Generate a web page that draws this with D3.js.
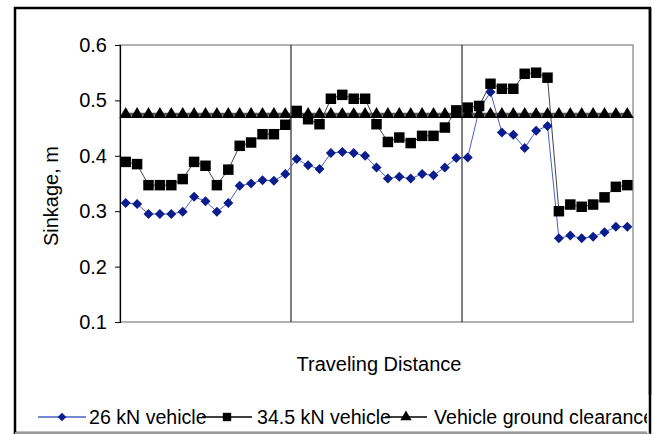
<!DOCTYPE html>
<html>
<head>
<meta charset="utf-8">
<script src="https://cdn.jsdelivr.net/npm/d3@7"></script>
<style>
  body { margin: 0; background: #fff; }
  svg { display: block; font-family: Arial, "Liberation Sans", sans-serif; }
</style>
</head>
<body>
<div id="chart"></div>
<script>
// sinkage per point along the travel path (45 readings)
const sink26 = [
  0.315, 0.313, 0.295, 0.295, 0.295, 0.299, 0.326, 0.318, 0.299, 0.315, 0.346, 0.350, 0.356, 0.355, 0.367,
  0.394, 0.383, 0.376, 0.405, 0.407, 0.405, 0.400, 0.379, 0.359, 0.362, 0.359, 0.367, 0.365, 0.379, 0.396,
  0.397, 0.483, 0.515, 0.442, 0.438, 0.414, 0.445, 0.454, 0.251, 0.256, 0.251, 0.254, 0.262, 0.272, 0.272
];
const sink345 = [
  0.389, 0.385, 0.347, 0.347, 0.347, 0.358, 0.389, 0.382, 0.347, 0.375, 0.418, 0.424, 0.439, 0.439, 0.456,
  0.481, 0.466, 0.457, 0.503, 0.510, 0.503, 0.503, 0.457, 0.425, 0.433, 0.423, 0.436, 0.436, 0.451, 0.482,
  0.487, 0.490, 0.530, 0.521, 0.521, 0.548, 0.550, 0.541, 0.300, 0.312, 0.308, 0.312, 0.325, 0.344, 0.347
];
const clearance = [
  0.475, 0.475, 0.475, 0.475, 0.475, 0.475, 0.475, 0.475, 0.475, 0.475, 0.475, 0.475, 0.475, 0.475, 0.475,
  0.475, 0.475, 0.475, 0.475, 0.475, 0.475, 0.475, 0.475, 0.475, 0.475, 0.475, 0.475, 0.475, 0.475, 0.475,
  0.475, 0.475, 0.475, 0.475, 0.475, 0.475, 0.475, 0.475, 0.475, 0.475, 0.475, 0.475, 0.475, 0.475, 0.475
];
const yTicks = [0.1, 0.2, 0.3, 0.4, 0.5, 0.6];
const gridAt = [15, 30];   // category gridlines
const seriesNames = ["26 kN vehicle", "34.5 kN vehicle", "Vehicle ground clearance"];

const W = 654, H = 434;
const plot = { left: 120, right: 633, top: 45, bottom: 322 };

const svg = d3.select("#chart").append("svg")
    .attr("width", W)
    .attr("height", H);

// outer frame
svg.append("rect")
    .attr("x", 15).attr("y", 8)
    .attr("width", 635).attr("height", 425)
    .attr("fill", "#fff")
    .attr("stroke", "#000")
    .attr("stroke-width", 2.5);
svg.append("line")
    .attr("x1", 15).attr("x2", 650)
    .attr("y1", 433).attr("y2", 433)
    .attr("stroke", "#999").attr("stroke-width", 2);

// scales
const idx = d3.range(sink26.length);
const x = d3.scaleBand()
    .domain(idx)
    .range([plot.left, plot.right])
    .padding(0);
const cx = i => x(i) + x.bandwidth() / 2;

const y = d3.scaleLinear()
    .domain([0.1, 0.6])
    .range([plot.bottom, plot.top]);

// plot area border
svg.append("rect")
    .attr("x", plot.left).attr("y", plot.top)
    .attr("width", plot.right - plot.left)
    .attr("height", plot.bottom - plot.top)
    .attr("fill", "none")
    .attr("stroke", "#999")
    .attr("stroke-width", 1.5);

// category gridlines
svg.append("g")
  .selectAll("line")
  .data(gridAt)
  .join("line")
    .attr("x1", d => x(d)).attr("x2", d => x(d))
    .attr("y1", plot.top).attr("y2", plot.bottom)
    .attr("stroke", "#000")
    .attr("stroke-width", 1);

// y axis
const yAxis = svg.append("g")
    .attr("transform", `translate(${plot.left},0)`)
    .call(d3.axisLeft(y).tickValues(yTicks).tickFormat(d3.format(".1f")).tickSize(5).tickPadding(8));
yAxis.select(".domain").attr("stroke", "#000").attr("stroke-width", 1.2);
yAxis.selectAll("text")
    .attr("font-size", "20px")
    .attr("fill", "#000")
    .attr("font-family", "Arial, 'Liberation Sans', sans-serif");

// axis titles
svg.append("text")
    .attr("transform", "rotate(-90)")
    .attr("x", -196).attr("y", 51)
    .attr("dy", "0.35em")
    .attr("text-anchor", "middle")
    .attr("font-size", "20px")
    .text("Sinkage, m");

svg.append("text")
    .attr("x", 379).attr("y", 364)
    .attr("dy", "0.35em")
    .attr("text-anchor", "middle")
    .attr("font-size", "20px")
    .text("Traveling Distance");

// marker shapes
const diamond = d3.symbol().type(d3.symbolSquare).size(50);
const square = d3.symbol().type(d3.symbolSquare).size(110);
const triangle = d3.symbol().type(d3.symbolTriangle).size(70);

const series = [
  { values: sink26,    line: "#4660c4", lw: 1,   sym: diamond,  fill: "#0b1c8c", rot: 45 },
  { values: clearance, line: "#555",    lw: 3,   sym: triangle, fill: "#000",    rot: 0 },
  { values: sink345,   line: "#444",    lw: 1,   sym: square,   fill: "#000",    rot: 0 }
];

const lineGen = d3.line()
    .x((d, i) => cx(i))
    .y(d => y(d));

// lines first
series.forEach(s => {
  svg.append("path")
      .datum(s.values)
      .attr("fill", "none")
      .attr("stroke", s.line)
      .attr("stroke-width", s.lw)
      .attr("d", lineGen);
});

// then markers
series.forEach(s => {
  svg.append("g")
    .selectAll("path")
    .data(s.values)
    .join("path")
      .attr("transform", (d, i) => `translate(${cx(i)},${y(d)}) rotate(${s.rot})`)
      .attr("d", s.sym)
      .attr("fill", s.fill);
});

// legend (Excel-style, crowded)
const legendItems = [
  { name: seriesNames[0], cx: 62,  half: 24, tx: 89,  line: "#4660c4", sym: d3.symbol().type(d3.symbolSquare).size(36), fill: "#0b1c8c", rot: 45 },
  { name: seriesNames[1], cx: 227, half: 25, tx: 257, line: "#000",    sym: d3.symbol().type(d3.symbolSquare).size(70), fill: "#000",    rot: 0 },
  { name: seriesNames[2], cx: 406, half: 21, tx: 434, line: "#000",    sym: d3.symbol().type(d3.symbolTriangle).size(55), fill: "#000", rot: 0 }
];
const ly = 417;
const leg = svg.append("g");
leg.selectAll("line")
  .data(legendItems)
  .join("line")
    .attr("x1", d => d.cx - d.half).attr("x2", d => d.cx + d.half)
    .attr("y1", ly).attr("y2", ly)
    .attr("stroke", d => d.line)
    .attr("stroke-width", 1.3);
leg.selectAll("path")
  .data(legendItems)
  .join("path")
    .attr("transform", d => `translate(${d.cx},${ly}) rotate(${d.rot})`)
    .attr("d", d => d.sym())
    .attr("fill", d => d.fill);
leg.selectAll("text")
  .data(legendItems)
  .join("text")
    .attr("x", d => d.tx).attr("y", ly)
    .attr("dy", "0.35em")
    .attr("font-size", "19.6px")
    .text(d => d.name);

// clip at the right edge like the source image
svg.append("rect")
    .attr("x", 647).attr("y", 395).attr("width", 7).attr("height", 38)
    .attr("fill", "#fff");
svg.append("line")
    .attr("x1", 650).attr("x2", 650).attr("y1", 8).attr("y2", 433)
    .attr("stroke", "#000").attr("stroke-width", 2.5);
</script>
</body>
</html>
